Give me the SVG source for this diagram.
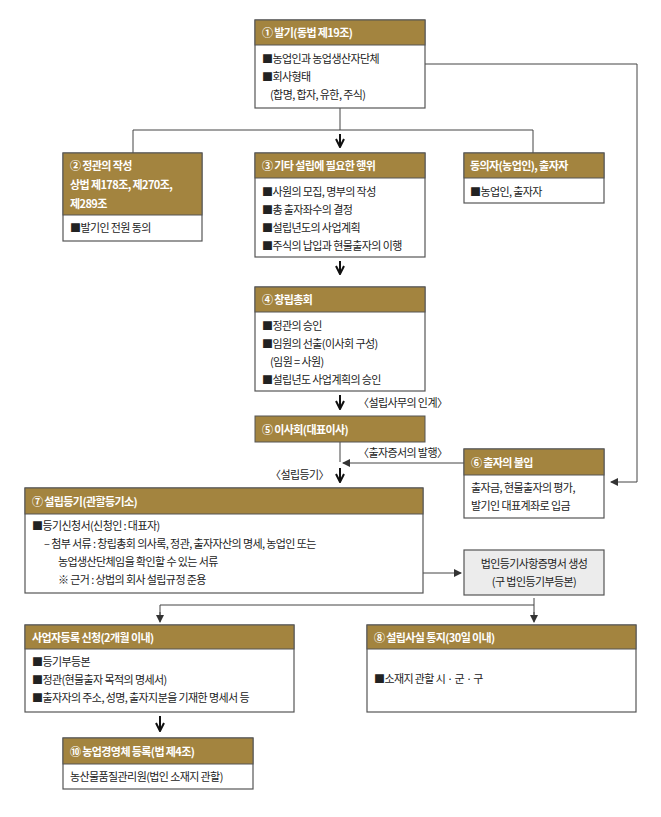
<svg xmlns="http://www.w3.org/2000/svg" width="661" height="817" viewBox="0 0 661 817">
<defs>
<marker id="ah" markerWidth="8" markerHeight="8" refX="7" refY="4" orient="auto" markerUnits="userSpaceOnUse"><path d="M0,0 L8,4 L0,8 z" fill="#333"/></marker>
<marker id="ahb" markerWidth="10" markerHeight="10" refX="9" refY="5" orient="auto" markerUnits="userSpaceOnUse"><path d="M1,1 L9,5 L1,9" fill="none" stroke="#111" stroke-width="2"/></marker>
<style>
text{font-family:"Noto Sans CJK KR","Noto Sans",sans-serif;font-size:11px;fill:#222;letter-spacing:-0.6px}
.h{fill:#a3843f;stroke:#555;stroke-width:1}
.b{fill:#fff;stroke:#555;stroke-width:1.2}
.g{fill:#ececec;stroke:#555;stroke-width:1.2}
.ht{fill:#fff;font-weight:bold}
.ln{fill:none;stroke:#444;stroke-width:1}
.bl{fill:none;stroke:#111;stroke-width:2}
</style>
</defs>
<rect width="661" height="817" fill="#fff"/>
<g id="connectors">
<path class="ln" d="M340,108 V130 M133,130 H533 M133,130 V153 M533,130 V153"/>
<path class="bl" d="M340,134 V147" marker-end="url(#ahb)"/>
<path class="bl" d="M340,261 V274" marker-end="url(#ahb)"/>
<path class="bl" d="M340,395 V409" marker-end="url(#ahb)"/>
<path class="ln" d="M340,442 V462"/>
<path class="ln" d="M464,463 H343" marker-end="url(#ah)"/>
<path class="bl" d="M340,468 V482" marker-end="url(#ahb)"/>
<path class="ln" d="M425,64 H637 V482 H611" marker-end="url(#ah)"/>
<path class="ln" d="M423,573 H461" marker-end="url(#ah)"/>
<path class="ln" d="M534,598 V605 H160 V621 M534,605 V621" />
<path class="ln" d="M160,612 V622" marker-end="url(#ah)"/>
<path class="ln" d="M534,612 V622" marker-end="url(#ah)"/>
<path class="bl" d="M160,716 V731" marker-end="url(#ahb)"/>
<text x="358" y="407">〈설립사무의 인계〉</text>
<text x="358" y="457">〈출자증서의 발행〉</text>
<text x="270" y="479">〈설립등기〉</text>
</g>
<g id="n1"><rect class="b" x="255" y="20" width="170" height="88"/><rect class="h" x="255" y="20" width="170" height="25"/>
<text class="ht" x="262" y="37">① 발기(동법 제19조)</text>
<text x="262" y="63">■농업인과 농업생산자단체</text><text x="262" y="81">■회사형태</text><text x="270" y="99">(합명, 합자, 유한, 주식)</text></g>
<g id="n2"><rect class="b" x="63" y="153" width="139" height="88"/><rect class="h" x="63" y="153" width="139" height="62"/>
<text class="ht" x="70" y="170">② 정관의 작성</text><text class="ht" x="70" y="189">상법 제178조, 제270조,</text><text class="ht" x="70" y="208">제289조</text>
<text x="70" y="232">■발기인 전원 동의</text></g>
<g id="n3"><rect class="b" x="255" y="153" width="170" height="104"/><rect class="h" x="255" y="153" width="170" height="25"/>
<text class="ht" x="262" y="170">③ 기타 설립에 필요한 행위</text>
<text x="262" y="196">■사원의 모집, 명부의 작성</text><text x="262" y="214">■총 출자좌수의 결정</text><text x="262" y="232">■설립년도의 사업계획</text><text x="262" y="250">■주식의 납입과 현물출자의 이행</text></g>
<g id="n3b"><rect class="b" x="464" y="153" width="140" height="50"/><rect class="h" x="464" y="153" width="140" height="25"/>
<text class="ht" x="470" y="170">동의자(농업인), 출자자</text><text x="470" y="196">■농업인, 출자자</text></g>
<g id="n4"><rect class="b" x="255" y="287" width="170" height="104"/><rect class="h" x="255" y="287" width="170" height="25"/>
<text class="ht" x="262" y="304">④ 창립총회</text>
<text x="262" y="330">■정관의 승인</text><text x="262" y="348">■임원의 선출(이사회 구성)</text><text x="270" y="366">(임원 = 사원)</text><text x="262" y="384">■설립년도 사업계획의 승인</text></g>
<g id="n5"><rect class="h" x="255" y="416" width="170" height="26"/><text class="ht" x="262" y="434">⑤ 이사회(대표이사)</text></g>
<g id="n6"><rect class="b" x="464" y="449" width="140" height="69"/><rect class="h" x="464" y="449" width="140" height="26"/>
<text class="ht" x="471" y="467">⑥ 출자의 불입</text><text x="471" y="492">출자금, 현물출자의 평가,</text><text x="471" y="510">발기인 대표계좌로 입금</text></g>
<g id="n7"><rect class="b" x="25" y="488" width="398" height="105"/><rect class="h" x="25" y="488" width="398" height="26"/>
<text class="ht" x="32" y="506">⑦ 설립등기(관할등기소)</text>
<text x="32" y="530">■등기신청서(신청인 : 대표자)</text>
<text x="44" y="548">–  첨부 서류 : 창립총회 의사록, 정관, 출자자산의 명세, 농업인 또는</text>
<text x="58" y="566">농업생산단체임을 확인할 수 있는 서류</text>
<text x="58" y="584">※ 근거 : 상법의 회사 설립규정 준용</text></g>
<g id="n7b"><rect class="g" x="464" y="550" width="140" height="45"/>
<text x="534" y="568" text-anchor="middle">법인등기사항증명서 생성</text><text x="534" y="586" text-anchor="middle">(구 법인등기부등본)</text></g>
<g id="n9"><rect class="b" x="25" y="625" width="269" height="87"/><rect class="h" x="25" y="625" width="269" height="24"/>
<text class="ht" x="32" y="642">사업자등록 신청(2개월 이내)</text>
<text x="32" y="666">■등기부등본</text><text x="32" y="684">■정관(현물출자 목적의 명세서)</text><text x="32" y="702">■출자자의 주소, 성명, 출자지분을 기재한 명세서 등</text></g>
<g id="n8"><rect class="b" x="367" y="625" width="269" height="87"/><rect class="h" x="367" y="625" width="269" height="24"/>
<text class="ht" x="374" y="642">⑧ 설립사실 통지(30일 이내)</text><text x="374" y="683">■소재지 관할 시 · 군 · 구</text></g>
<g id="n10"><rect class="b" x="63" y="738" width="190" height="51"/><rect class="h" x="63" y="738" width="190" height="26"/>
<text class="ht" x="70" y="756">⑩ 농업경영체 등록(법 제4조)</text><text x="70" y="781">농산물품질관리원(법인 소재지 관할)</text></g>
</svg>
